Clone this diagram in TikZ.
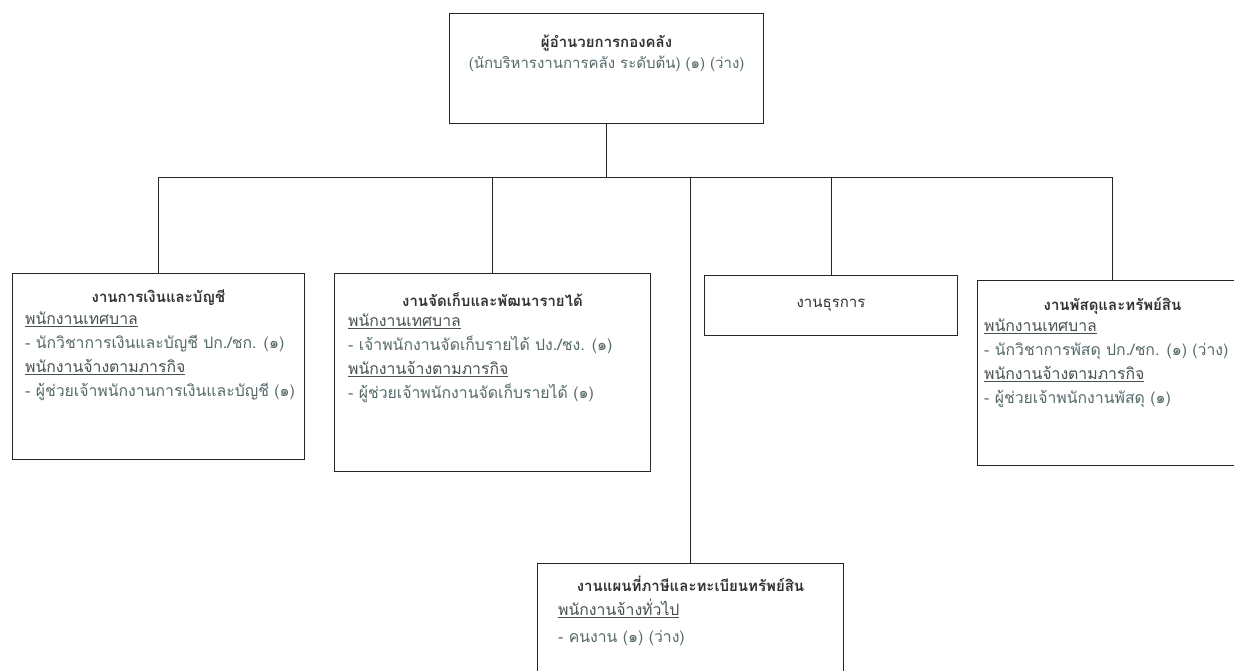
\documentclass[tikz,border=0pt]{standalone}
\usepackage{fontspec}
\newfontfamily\thaifont[Script=Thai]{Loma}
\usetikzlibrary{positioning,calc}
\definecolor{headtext}{RGB}{50,50,50}
\definecolor{bodytext}{RGB}{85,105,105}
\definecolor{labeltext}{RGB}{70,80,80}
\newcommand{\postlabel}[1]{{\color{labeltext}\underline{#1}}}

\begin{document}
\begin{tikzpicture}[x=1pt,y=-1pt,
    unitbox/.style={draw=black!85,line width=1.1pt,rectangle,anchor=north west,inner sep=0pt},
    boxhead/.style={font=\thaifont\bfseries\fontsize{15}{20}\selectfont,text=headtext,inner sep=0pt},
    boxbody/.style={font=\thaifont\fontsize{15.8}{24}\selectfont,text=bodytext,align=left,anchor=north west,inner sep=0pt},
    link/.style={draw=black!85,line width=0.9pt}]
  \useasboundingbox (0,0) rectangle (1234,670);

  % director
  \node (director) at (449,13) [unitbox,minimum width=314pt,minimum height=110pt]{};
  \node (director-head) at ($(director.north)+(0,30)$) [boxhead]{ผู้อำนวยการกองคลัง};
  \node (director-sub) at ($(director.north)+(0,51)$) [boxhead,font=\thaifont\fontsize{15}{20}\selectfont,text=bodytext]{(นักบริหารงานการคลัง ระดับต้น) (๑) (ว่าง)};

  % units
  \node (finance) at (12,273) [unitbox,minimum width=292pt,minimum height=186pt]{};
  \node (revenue) at (334,273) [unitbox,minimum width=316pt,minimum height=198pt]{};
  \node (admin) at (704,275) [unitbox,minimum width=253pt,minimum height=60pt]{};
  \node (supplies) at (977,280) [unitbox,minimum width=270pt,minimum height=185pt]{};
  \node (mapping) at (537,563) [unitbox,minimum width=306pt,minimum height=120pt]{};

  \node (finance-head) at ($(finance.north)+(0,25)$) [boxhead]{งานการเงินและบัญชี};
  \node (finance-body) at ($(finance.north west)+(13,39)$) [boxbody]{%
    \postlabel{พนักงานเทศบาล}\\
    - นักวิชาการเงินและบัญชี ปก./ชก. (๑)\\
    \postlabel{พนักงานจ้างตามภารกิจ}\\
    - ผู้ช่วยเจ้าพนักงานการเงินและบัญชี (๑)};

  \node (revenue-head) at ($(revenue.north)+(0,27)$) [boxhead]{งานจัดเก็บและพัฒนารายได้};
  \node (revenue-body) at ($(revenue.north west)+(14,41)$) [boxbody]{%
    \postlabel{พนักงานเทศบาล}\\
    - เจ้าพนักงานจัดเก็บรายได้ ปง./ชง. (๑)\\
    \postlabel{พนักงานจ้างตามภารกิจ}\\
    - ผู้ช่วยเจ้าพนักงานจัดเก็บรายได้ (๑)};

  \node (admin-head) at (admin.center) [boxhead,font=\thaifont\fontsize{15}{20}\selectfont]{งานธุรการ};

  \node (supplies-head) at ($(supplies.north)+(0,26)$) [boxhead]{งานพัสดุและทรัพย์สิน};
  \node (supplies-body) at ($(supplies.north west)+(7,39)$) [boxbody]{%
    \postlabel{พนักงานเทศบาล}\\
    - นักวิชาการพัสดุ ปก./ชก. (๑) (ว่าง)\\
    \postlabel{พนักงานจ้างตามภารกิจ}\\
    - ผู้ช่วยเจ้าพนักงานพัสดุ (๑)};

  \node (mapping-head) at ($(mapping.north)+(0,21)$) [boxhead]{งานแผนที่ภาษีและทะเบียนทรัพย์สิน};
  \node (mapping-body) at ($(mapping.north west)+(21,36)$) [boxbody,font=\thaifont\fontsize{15.8}{27}\selectfont]{%
    \postlabel{พนักงานจ้างทั่วไป}\\
    - คนงาน (๑) (ว่าง)};

  % connectors
  \coordinate (bus) at (0,177);
  \draw[link] (director.south) -- (director.south |- bus);
  \draw[link] (finance.north |- bus) -- (supplies.north |- bus);
  \draw[link] (finance.north) -- (finance.north |- bus);
  \draw[link] (revenue.north) -- (revenue.north |- bus);
  \draw[link] (mapping.north) -- (mapping.north |- bus);
  \draw[link] (admin.north) -- (admin.north |- bus);
  \draw[link] (supplies.north) -- (supplies.north |- bus);
\end{tikzpicture}
\end{document}
